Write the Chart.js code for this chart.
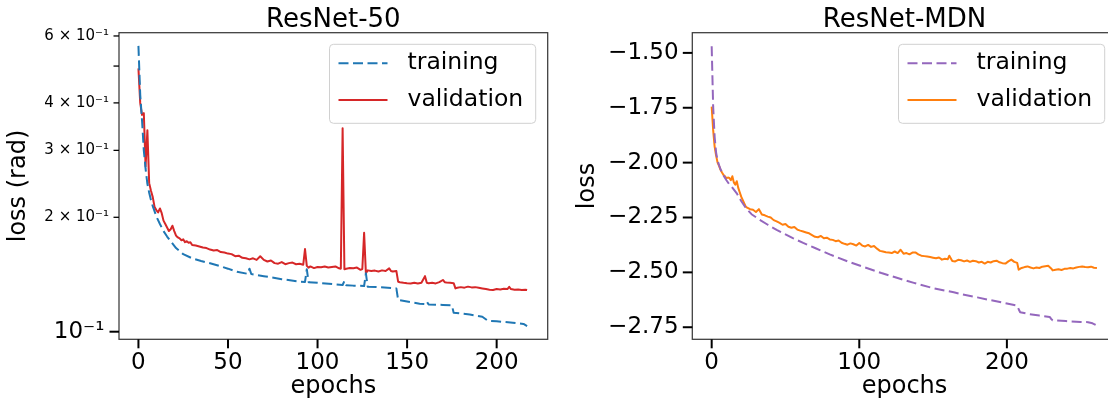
<!DOCTYPE html>
<html>
<head>
<meta charset="utf-8">
<script src="https://cdn.jsdelivr.net/npm/chart.js@4.4.1/dist/chart.umd.min.js"></script>
<style>
  html, body { margin: 0; padding: 0; background: #fff; overflow: hidden; }
  #wrap { position: relative; width: 1108px; height: 406px; overflow: hidden; }
  canvas { position: absolute; top: 0; }
  #left { left: 0; }
  #right { left: 560px; }
</style>
</head>
<body>
<div id="wrap">
  <canvas id="left" width="560" height="406"></canvas>
  <canvas id="right" width="560" height="406"></canvas>
</div>
<script>
// ---- ResNet-50 (log loss in rad) ----
const leftTrainEpochs = [0,1,2,3,4,5,6,7,8,10,12,14,16,18,21,25,30,35,40,45,50,55,61,62,63,70,80,90,93,94,95,100,110,114,115,116,120,126,127,128,135,144,145,150,157,160,161,162,170,175,176,185,192,195,200,209,215,217];
const leftTrainLoss = [0.565,0.42,0.36,0.30,0.268,0.245,0.232,0.222,0.214,0.201,0.192,0.184,0.178,0.173,0.166,0.160,0.156,0.1535,0.1514,0.149,0.1465,0.1438,0.142,0.1465,0.1418,0.140,0.1375,0.1355,0.1352,0.146,0.135,0.1345,0.1332,0.1327,0.136,0.1326,0.1322,0.1319,0.1424,0.1314,0.1309,0.130,0.1212,0.120,0.1185,0.1182,0.120,0.118,0.1176,0.1173,0.1122,0.111,0.1095,0.1069,0.1065,0.1056,0.1048,0.1035];

const leftValEpochs = [0,1,2,3,4,5,6,7,8,9,10,11,12,13,14,15,16,17,18,19,20,21,22,23,24,25,26,27,28,29,30,
  32,34,36,38,40,42,44,46,48,50,52,54,56,58,60,62,64,66,68,70,72,74,76,78,80,82,84,86,88,90,92,
  93,94,95,96,98,100,102,104,106,108,110,112,113,114,115,116,118,120,122,124,125,126,127,128,
  130,132,134,136,138,140,141,142,144,145,146,148,150,152,154,156,158,160,161,162,164,166,168,170,
  171,172,174,176,177,178,180,182,184,186,188,190,192,194,196,198,200,202,204,206,207,208,210,212,214,216,217];
const leftValLoss = [0.493,0.40,0.372,0.376,0.272,0.339,0.246,0.235,0.226,0.213,0.209,0.206,0.211,0.205,0.196,0.192,0.188,0.184,0.186,0.190,0.184,0.179,0.177,0.176,0.174,0.175,0.172,0.173,0.1715,0.172,0.169,
  0.1685,0.1675,0.1665,0.166,0.1645,0.1635,0.164,0.162,0.1615,0.1605,0.16,0.158,0.1585,0.1565,0.156,0.155,0.156,0.1545,0.158,0.1545,0.153,0.154,0.1515,0.151,0.1525,0.1505,0.1515,0.152,0.1505,0.151,0.15,
  0.165,0.149,0.1474,0.1485,0.147,0.148,0.1478,0.1485,0.1475,0.148,0.1485,0.1468,0.1465,0.343,0.146,0.1465,0.147,0.1468,0.1475,0.1455,0.1462,0.182,0.1424,0.145,
  0.1445,0.1448,0.144,0.145,0.1445,0.1468,0.1445,0.144,0.1445,0.1354,0.135,0.1345,0.1342,0.134,0.1345,0.134,0.1345,0.14,0.1345,0.1342,0.1345,0.134,0.135,0.1368,
  0.135,0.1348,0.1345,0.1342,0.13,0.1305,0.131,0.1306,0.1314,0.1308,0.131,0.1305,0.13,0.1295,0.129,0.1288,0.1295,0.1292,0.1298,0.1295,0.1312,0.1295,0.129,0.1292,0.1288,0.129,0.1287];

const leftXTicks = [0, 50, 100, 150, 200];
const leftYTicks = [0.1, 0.2, 0.3, 0.4, 0.5, 0.6];
const leftYTickLabels = ['10\u207B\u00B9\u2009', '2 \u00D7 10\u207B\u00B9', '3 \u00D7 10\u207B\u00B9', '4 \u00D7 10\u207B\u00B9', '', '6 \u00D7 10\u207B\u00B9'];

// ---- ResNet-MDN ----
const rightTrainEpochs = [0,1,2,3,4,5,6,8,10,12,14,17,20,23,27,32,38,44,50,55,62,70,80,92,104,115,126,137,150,164,170,180,187,200,207,208,209,215,222,229,230,231,240,250,255,258,261];
const rightTrainLoss = [-1.47,-1.745,-1.882,-1.955,-1.99,-2.012,-2.03,-2.058,-2.08,-2.10,-2.114,-2.14,-2.175,-2.205,-2.235,-2.258,-2.283,-2.306,-2.327,-2.344,-2.366,-2.389,-2.418,-2.45,-2.478,-2.503,-2.526,-2.548,-2.572,-2.591,-2.601,-2.614,-2.624,-2.642,-2.652,-2.668,-2.682,-2.69,-2.697,-2.703,-2.712,-2.718,-2.722,-2.726,-2.727,-2.732,-2.742];

const rightValEpochs = [0,1,2,3,4,5,6,7,8,9,10,11,12,13,14,15,16,17,18,19,20,21,22,23,24,
  26,28,30,32,34,36,38,40,42,44,46,48,50,52,54,56,58,60,62,64,66,68,70,72,74,76,78,80,82,84,86,88,90,92,94,96,98,100,
  102,104,106,108,110,112,114,116,118,120,122,124,126,128,130,132,134,136,138,140,142,144,146,148,150,152,154,156,158,160,
  161,163,165,167,169,171,173,175,177,179,181,183,185,187,189,191,193,195,197,199,201,203,205,207,
  208,210,212,214,216,218,220,222,224,226,228,230,
  231,233,235,237,239,241,243,245,247,249,251,253,255,257,259,261];
const rightValLoss = [-1.745,-1.851,-1.927,-1.968,-2.0,-2.015,-2.033,-2.045,-2.056,-2.062,-2.071,-2.068,-2.07,-2.08,-2.062,-2.09,-2.1,-2.085,-2.115,-2.135,-2.155,-2.17,-2.185,-2.2,-2.205,
  -2.212,-2.215,-2.225,-2.212,-2.236,-2.24,-2.246,-2.25,-2.262,-2.268,-2.275,-2.283,-2.28,-2.292,-2.297,-2.293,-2.305,-2.31,-2.314,-2.318,-2.322,-2.33,-2.338,-2.34,-2.334,-2.345,-2.342,-2.35,-2.352,-2.358,-2.355,-2.365,-2.37,-2.374,-2.368,-2.372,-2.378,-2.366,
  -2.378,-2.382,-2.375,-2.384,-2.38,-2.392,-2.402,-2.405,-2.408,-2.41,-2.412,-2.405,-2.412,-2.397,-2.415,-2.412,-2.418,-2.41,-2.409,-2.418,-2.424,-2.426,-2.428,-2.43,-2.433,-2.436,-2.432,-2.442,-2.438,-2.44,
  -2.424,-2.448,-2.45,-2.443,-2.445,-2.45,-2.446,-2.452,-2.447,-2.449,-2.455,-2.452,-2.46,-2.452,-2.455,-2.449,-2.447,-2.454,-2.458,-2.46,-2.45,-2.442,-2.452,-2.457,
  -2.488,-2.48,-2.476,-2.473,-2.478,-2.482,-2.478,-2.48,-2.474,-2.472,-2.47,-2.482,
  -2.491,-2.488,-2.486,-2.489,-2.484,-2.483,-2.48,-2.482,-2.478,-2.475,-2.473,-2.476,-2.477,-2.474,-2.479,-2.48];

const rightXTicks = [0, 100, 200];
const rightYTicks = [-2.75, -2.5, -2.25, -2.0, -1.75, -1.5];

const FONT = "'DejaVu Sans', sans-serif";
Chart.defaults.font.family = FONT;
Chart.defaults.color = '#000';

const pts = (xs, ys) => xs.map((x, i) => ({ x: x, y: ys[i] }));

// spines, tick marks, title and legend drawn on top like matplotlib does
const axesDecor = {
  id: 'axesDecor',
  afterDraw(chart, args, opts) {
    const { ctx, chartArea: a, scales } = chart;
    ctx.save();
    ctx.strokeStyle = '#3a3a3a';
    ctx.lineWidth = 1.25;
    ctx.strokeRect(a.left, a.top, a.right - a.left, a.bottom - a.top);

    ctx.strokeStyle = '#000';
    const seg = (x1, y1, x2, y2, w) => {
      ctx.lineWidth = w;
      ctx.beginPath(); ctx.moveTo(x1, y1); ctx.lineTo(x2, y2); ctx.stroke();
    };
    scales.x.ticks.forEach(t => {
      const px = scales.x.getPixelForValue(t.value);
      seg(px, a.bottom, px, a.bottom + 9, 2);
    });
    scales.y.ticks.forEach(t => {
      const py = scales.y.getPixelForValue(t.value);
      const minor = opts.minorY && opts.minorY.includes(t.value);
      seg(a.left - (minor ? 5.5 : 9.5), py, a.left, py, minor ? 1.3 : 2);
    });

    ctx.fillStyle = '#000';
    ctx.font = '26px ' + FONT;
    ctx.textAlign = 'center';
    ctx.textBaseline = 'alphabetic';
    ctx.fillText(opts.title, (a.left + a.right) / 2, 26.7);

    // legend box, upper right
    const ds = chart.data.datasets;
    ctx.font = '23.5px ' + FONT;
    const tw = Math.max(...ds.map(d => ctx.measureText(d.label).width));
    const bw = 78 + tw + 12.5, bh = 79;
    const bx = a.right - 12 - bw, by = a.top + 11.6;
    ctx.beginPath();
    ctx.roundRect(bx, by, bw, bh, 4);
    ctx.fillStyle = 'rgba(255,255,255,0.8)';
    ctx.fill();
    ctx.strokeStyle = '#d0d0d0';
    ctx.lineWidth = 1;
    ctx.stroke();
    ds.forEach((d, i) => {
      const y = by + 19 + i * 36.7;
      ctx.strokeStyle = d.borderColor;
      ctx.lineWidth = d.borderWidth;
      ctx.setLineDash(d.borderDash || []);
      seg(bx + 9, y, bx + 58, y, d.borderWidth);
      ctx.setLineDash([]);
      ctx.fillStyle = '#000';
      ctx.textAlign = 'left';
      ctx.textBaseline = 'middle';
      ctx.fillText(d.label, bx + 78, y);
    });
    ctx.restore();
  }
};

function makeChart(id, cfg) {
  return new Chart(document.getElementById(id), {
    type: 'line',
    data: {
      datasets: [
        { label: 'training', data: cfg.train, borderColor: cfg.trainColor, borderWidth: 2,
          borderDash: [10, 4.5], pointRadius: 0, tension: 0, borderJoinStyle: 'round' },
        { label: 'validation', data: cfg.val, borderColor: cfg.valColor, borderWidth: 2,
          pointRadius: 0, tension: 0, borderJoinStyle: 'round' }
      ]
    },
    options: {
      responsive: false,
      animation: false,
      events: [],
      layout: { padding: { top: 32.7, right: cfg.padRight, bottom: 0, left: 0 } },
      plugins: {
        legend: { display: false },
        tooltip: { enabled: false },
        axesDecor: { title: cfg.title, minorY: cfg.minorY }
      },
      scales: {
        x: {
          type: 'linear',
          min: cfg.xMin, max: cfg.xMax,
          afterBuildTicks: s => { s.ticks = cfg.xTicks.map(v => ({ value: v })); },
          afterFit: s => { s.height = 66.7; },
          grid: { display: false, drawTicks: false },
          border: { display: false },
          ticks: { autoSkip: false, maxRotation: 0, padding: 10, color: '#000', font: { size: 23 } },
          title: { display: true, text: 'epochs', color: '#000', font: { size: 24 }, padding: { top: 0, bottom: 5 } }
        },
        y: {
          type: cfg.yType,
          min: cfg.yMin, max: cfg.yMax,
          afterBuildTicks: s => { s.ticks = cfg.yTicks.map(v => ({ value: v })); },
          afterFit: s => { s.width = cfg.yWidth; },
          grid: { display: false, drawTicks: false },
          border: { display: false },
          ticks: {
            autoSkip: false, padding: cfg.yPad, color: '#000',
            font: cfg.yFont,
            callback: cfg.yLabel
          },
          title: { display: true, text: cfg.yTitle, color: '#000', font: { size: 24 }, padding: { top: cfg.yTitlePad, bottom: 0 } }
        }
      }
    },
    plugins: [axesDecor]
  });
}

makeChart('left', {
  title: 'ResNet-50',
  train: pts(leftTrainEpochs, leftTrainLoss),
  val: pts(leftValEpochs, leftValLoss),
  trainColor: '#1f77b4', valColor: '#d62728',
  padRight: 12.3,
  xMin: -10.85, xMax: 228.5, xTicks: leftXTicks,
  yType: 'logarithmic', yMin: 0.0955, yMax: 0.612, yTicks: leftYTicks,
  minorY: [0.2, 0.3, 0.4, 0.5, 0.6],
  yWidth: 119, yPad: 10,
  yFont: c => ({ size: c.tick && c.tick.value === 0.1 ? 23 : 15 }),
  yLabel: (v, i) => leftYTickLabels[i],
  yTitle: 'loss (rad)', yTitlePad: 4.3
});

makeChart('right', {
  title: 'ResNet-MDN',
  train: pts(rightTrainEpochs, rightTrainLoss),
  val: pts(rightValEpochs, rightValLoss),
  trainColor: '#9467bd', valColor: '#ff7f0e',
  padRight: 3.3,
  xMin: -13.13, xMax: 274.4, xTicks: rightXTicks,
  yType: 'linear', yMin: -2.805, yMax: -1.408, yTicks: rightYTicks,
  minorY: [],
  yWidth: 132.3, yPad: 13.7,
  yFont: { size: 23 },
  yLabel: v => v.toFixed(2).replace('-', '\u2212'),
  yTitle: 'loss', yTitlePad: 13.1
});
</script>
</body>
</html>
